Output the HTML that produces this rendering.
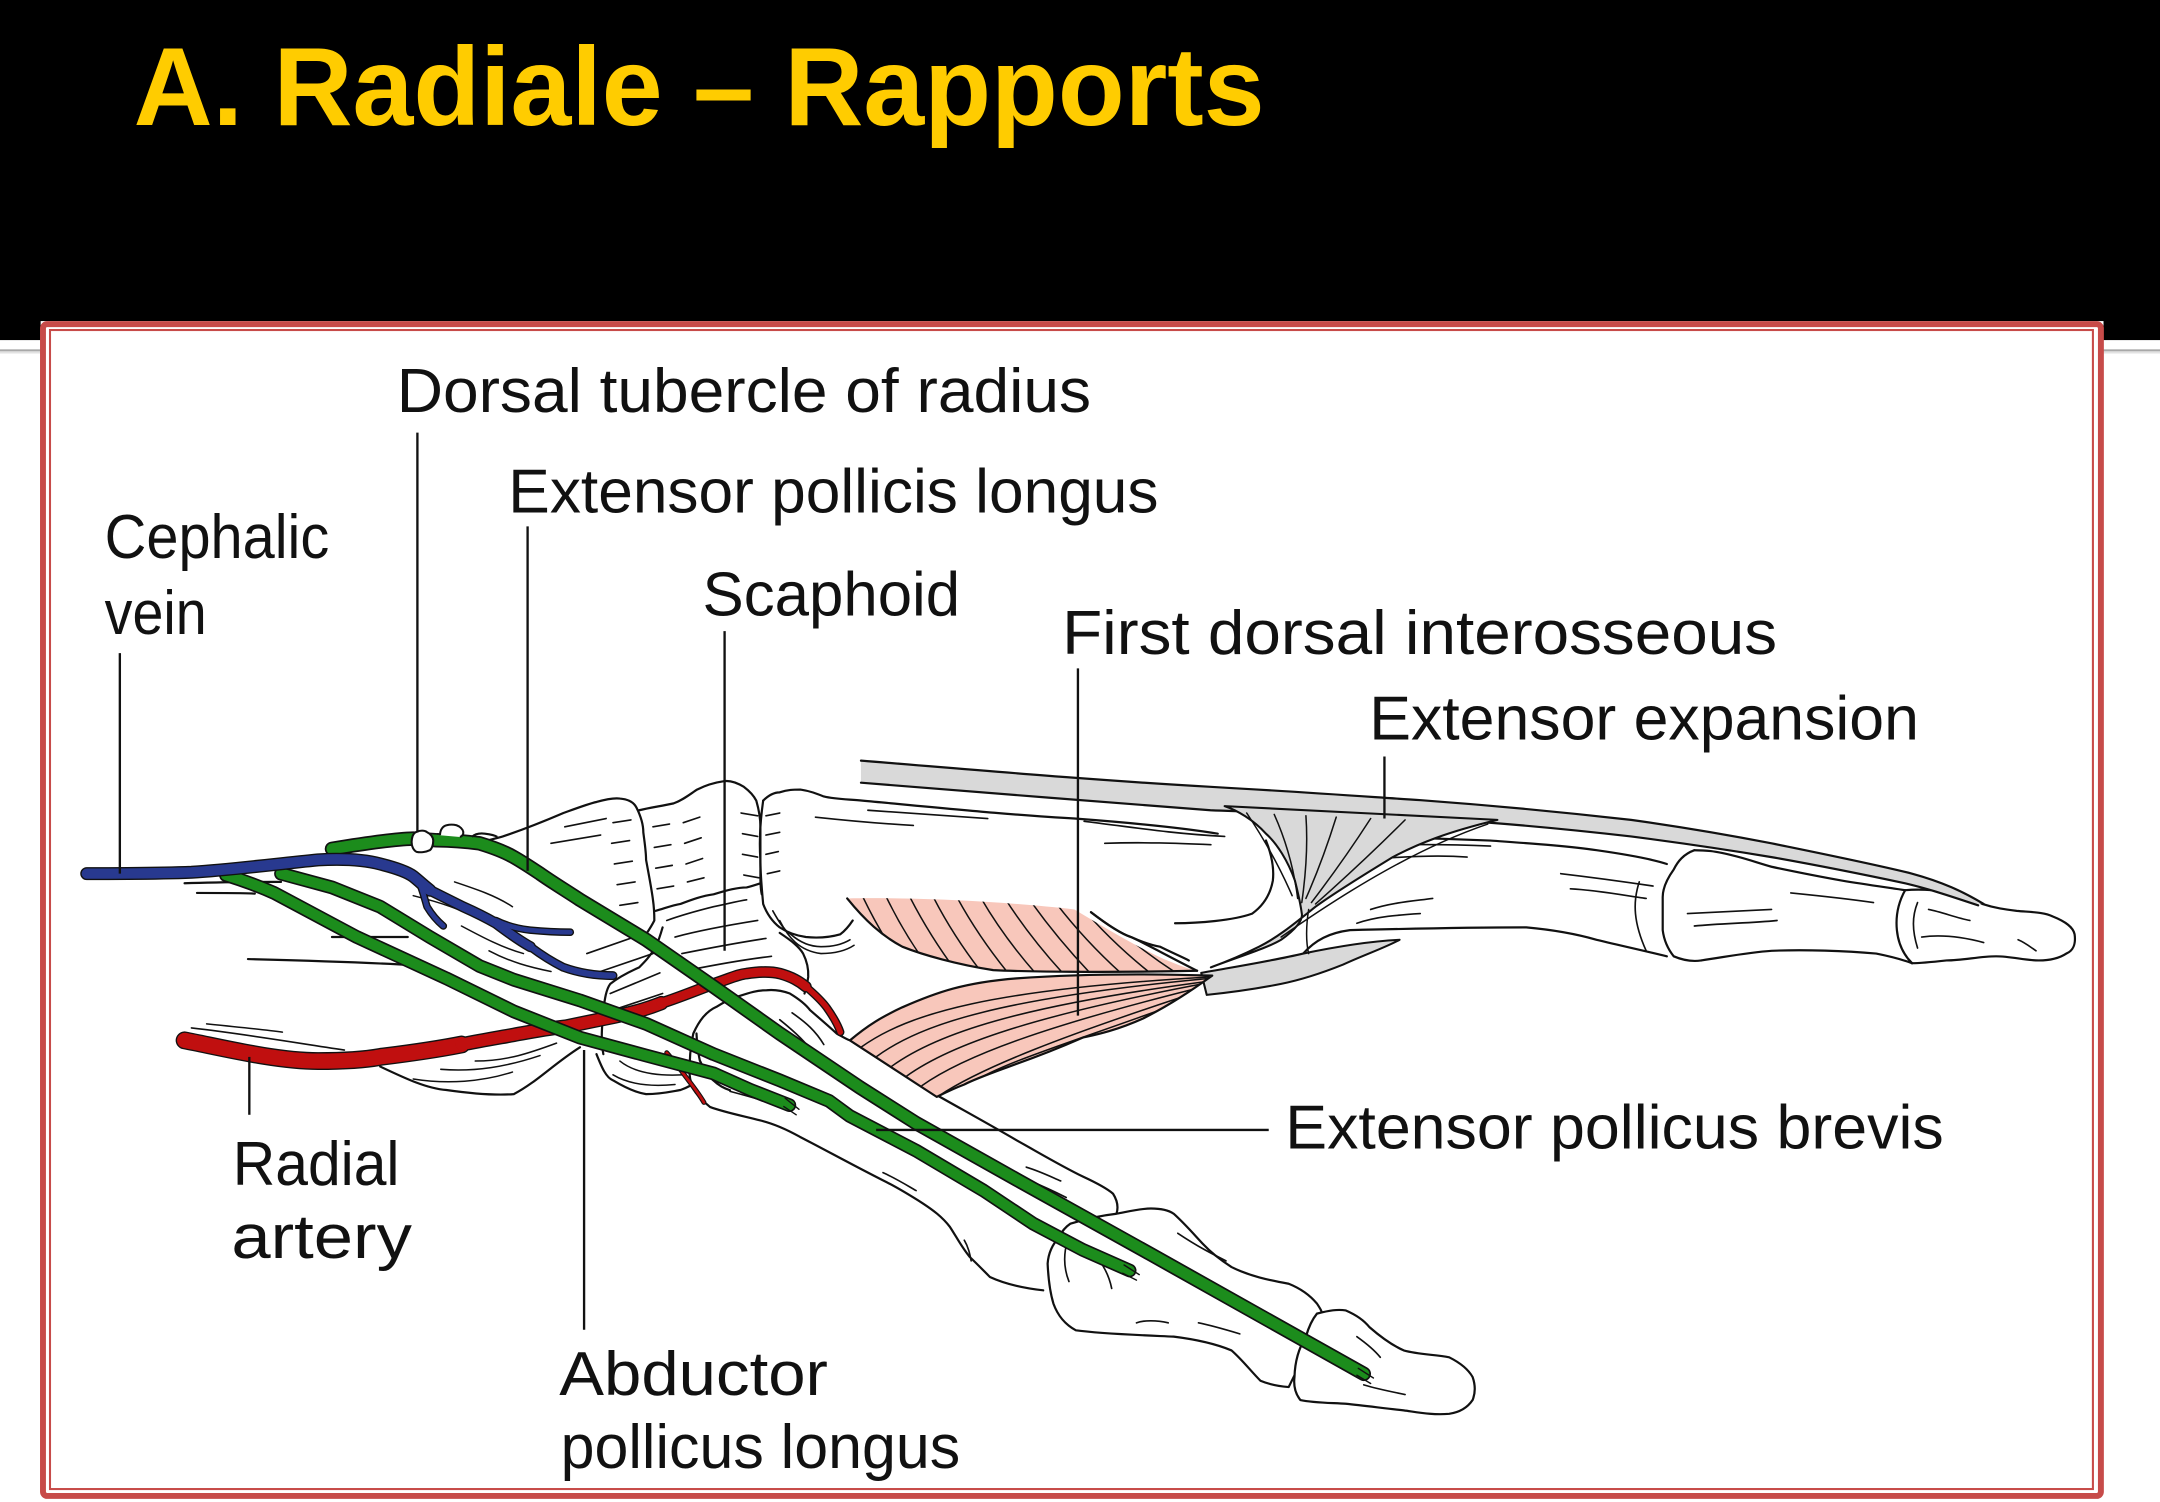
<!DOCTYPE html>
<html>
<head>
<meta charset="utf-8">
<style>
html,body{margin:0;padding:0;background:#fff;}
svg{display:block;}
</style>
</head>
<body>
<svg width="2160" height="1502" viewBox="0 0 1568 1090" preserveAspectRatio="none" xmlns="http://www.w3.org/2000/svg">
<defs>
  <clipPath id="ub"><path d="M615,652 C660,651 730,654 780,660 C800,672 825,687 845,696 C855,700 862,703 869,704.5 C840,706 800,706 760,705.5 C740,705 730,704.5 721,704 C695,700 670,693 655,687 C640,679 628,668 615,652 Z"/></clipPath>
  <clipPath id="lb"><path d="M617,755 C630,744 640,738 655,731 C680,720 700,713 738,710 C780,707 830,706.5 880,708 C866,718 850,729 830,739 C810,748 795,751 786,753 C770,760 755,766 738,772 C722,778 710,782 700,787 C692,790 686,793 680,796 C660,783 640,770 617,755 Z"/></clipPath>
</defs>

<!-- background -->
<rect x="0" y="0" width="1568" height="1090" fill="#ffffff"/>
<rect x="0" y="0" width="1568" height="246.8" fill="#000000"/>
<line x1="0" y1="255" x2="1568" y2="255" stroke="#e2e2e2" stroke-width="3"/>
<line x1="0" y1="254.2" x2="1568" y2="254.2" stroke="#a8a8a8" stroke-width="1.4"/>

<!-- title -->
<text x="97" y="90.7" font-family="'Liberation Sans', Arial, sans-serif" font-weight="bold" font-size="81" fill="#ffcc00" textLength="821" lengthAdjust="spacingAndGlyphs">A. Radiale – Rapports</text>

<!-- picture frame -->
<rect x="29.5" y="233" width="1497.5" height="855.5" fill="#ffffff"/>
<rect x="31.2" y="235.2" width="1493.9" height="850.4" rx="3" ry="3" fill="none" stroke="#c74b49" stroke-width="4.3"/>
<rect x="36.3" y="239.5" width="1483" height="841.1" fill="none" stroke="#c74b49" stroke-width="1.5"/>

<!-- ================= DRAWING ================= -->
<g fill="none" stroke="#111" stroke-width="1.6" stroke-linecap="round" stroke-linejoin="round">

  <!-- radius lines -->
  <path d="M134,641 C160,640 185,640 204,640"/>
  <path d="M143,648 C160,648 175,648 185,648.5"/>
  <path d="M241,680 L296,680"/>
  <path d="M180,696 C220,697 260,698 301,700.5"/>
  <path d="M139,746 C175,750 210,756 250,762" stroke-width="1.2"/>
  <path d="M150,743 C170,745 190,747 205,749" stroke-width="1.1"/>
  <!-- radial styloid -->
  <path d="M276,774 C295,783 310,790 324,791 C345,794 360,795 373,794 C390,785 402,772 421,760" fill="#fff"/>
  <path d="M433,765 C437,775 440,782 445,784 C455,790 462,793 469,794 C480,794 488,792 494,791 C500,789 503,787 506,784"/>
  <g stroke-width="1.1">
    <path d="M300,783 C325,787 350,785 372,778"/>
    <path d="M320,776 C345,778 368,774 392,766"/>
    <path d="M345,770 C368,770 385,764 404,757"/>
    <path d="M445,780 C455,786 470,789 490,787"/>
    <path d="M450,770 C460,778 475,781 495,780"/>
    <path d="M300,650 C320,655 335,660 350,668"/>
    <path d="M335,672 C350,680 365,688 380,692"/>
    <path d="M355,690 C370,698 385,702 400,705"/>
    <path d="M330,640 C345,645 360,650 372,658"/>
  </g>

  <!-- carpal bone A -->
  <path d="M345,613 C352,610 358,609 365,607 C380,602 395,596 409,590 C420,586 428,583 433,582 C440,580 446,579 450,579.5 C456,580 460,582 462,586 C465,592 467,598 467,604 C468,612 469,618 469,624 C471,635 473,645 474,653 C475,660 475,665 475,668 C473,672 471,675 469,678" fill="#fff"/>
  <!-- scaphoid left edge -->
  <path d="M481,673 C479,680 477,685 476,687 C472,694 468,698 464,702 C455,706 448,710 443,714 C440,718 439,725 438,733 C437,745 436,755 438,765"/>
  <!-- carpal bone B -->
  <path d="M464,588 C472,586 480,585 489,583 C495,581 500,577 506,573 C512,570 518,568 525,567 C530,566 535,568 540,571 C544,574 547,577 549,581 C551,588 552,594 552,600 L552,636 C552,641 552,645 553,649"/>
  <path d="M476,661 C483,659 488,657 494,656 C502,653 510,650 518,649 C528,646 535,644 542,644 C546,643 549,642 552,641"/>
  <!-- scaphoid right/bottom -->
  <path d="M566,677 C575,683 580,687 583,692 C586,698 587,704 586.7,709 C586,714 585,718 584,721"/>

  <!-- MC2 -->
  <path d="M554,581 C558,577 562,575 566,575 C572,573 576,573 581,573 C588,574 593,576 598,578 C606,580 615,580 626,581 C680,586 740,592 780,594 C820,597 860,601 884,605"/>
  <path d="M554,581 C552,595 551,610 552,624 C552,635 553,645 554,656 C557,664 561,669 566,673 C572,677 578,679 585,680 C595,681 603,680 610,678 C614,675 617,671 619,668"/>
  <path d="M561,661 C566,670 570,676 574,678 C582,685 590,687 596,687 C605,687 612,685 617,682" stroke-width="1.2"/>
  <path d="M566,668 C572,680 580,690 596,692 C606,692 614,690 620,686" stroke-width="1.1"/>
  <path d="M792,662 C805,672 815,678 821,680 C830,684 836,686 842,687 C850,691 857,694 863,697"/>
  <path d="M919,610 C923,620 925,630 924,639 C922,650 916,658 909,663 C895,668 870,670 853,670"/>

  <!-- carpal dashes -->
  <g stroke-width="1.2">
    <path d="M445,597 L458,595"/><path d="M444,612 L457,610"/><path d="M446,627 L459,625"/><path d="M448,642 L461,640"/><path d="M450,657 L463,655"/>
    <path d="M474,600 L486,598"/><path d="M475,615 L487,613"/><path d="M476,630 L488,628"/><path d="M477,645 L489,643"/>
    <path d="M496,597 L508,593"/><path d="M497,612 L509,608"/><path d="M498,627 L510,623"/><path d="M499,640 L511,637"/>
    <path d="M538,590 L550,592"/><path d="M539,605 L550,607"/><path d="M539,620 L550,622"/><path d="M540,635 L551,637"/>
    <path d="M556,592 L566,590"/><path d="M556,606 L566,604"/><path d="M556,620 L565,618"/><path d="M557,634 L566,632"/>
    <path d="M426,692 L469,677"/><path d="M433,706 L474,692"/><path d="M443,721 L479,706"/><path d="M445,733 L481,721"/>
    <path d="M484,668 C495,664 510,660 518,658 C528,656 535,654 542,653"/>
    <path d="M490,680 C505,676 525,672 550,668"/>
    <path d="M495,692 C510,689 530,685 556,681"/>
    <path d="M500,704 C515,701 535,697 560,694"/>
    <path d="M592,593 C620,596 645,598 663,599"/>
    <path d="M630,588 C660,590 690,592 717,594"/>
    <path d="M410,600 C420,598 430,596 440,594"/>
    <path d="M400,612 C412,610 424,608 436,606"/>
  </g>

  <!-- index PP -->
  <path d="M945,605 C1000,607 1050,609 1082,610 C1110,612 1140,614 1159,617 C1180,620 1198,623 1210,627"/>
  <path d="M946,692 C955,682 965,677 980,675 C1020,674 1070,673 1108,673 C1130,675 1145,678 1159,682 C1180,687 1198,691 1210,694"/>
  <!-- index MP -->
  <path d="M1230,617 C1240,617 1245,618 1250,619 C1265,622 1275,626 1286,629 C1305,633 1320,636 1337,639 C1355,642 1370,644 1383,646"/>
  <path d="M1230,617 C1222,620 1218,625 1215,631 C1210,638 1207,645 1207,651 L1207,675 C1208,683 1211,689 1215,694 C1222,697 1228,698 1235,697"/>
  <path d="M1235,697 C1255,694 1270,691 1286,690 C1310,689 1340,690 1362,692 C1372,694 1380,696 1388,699"/>
  <!-- index DP -->
  <path d="M1383,646 C1395,645 1405,646 1413,647 C1425,649 1432,652 1439,656 C1448,659 1456,660 1464,661 C1475,662 1484,662 1490,665 C1500,669 1505,673 1506,678 C1507,685 1505,690 1500,692 C1494,696 1487,697 1480,697 C1470,697 1460,694 1449,694 C1437,694 1425,697 1413,697 C1404,698 1395,699 1388,699"/>
  <path d="M1383,646 C1378,655 1376,665 1377,675 C1378,685 1382,693 1388,699"/>
  <g stroke-width="1.2">
    <path d="M787,596 C820,600 850,605 889,607"/>
    <path d="M802,612 C830,611 855,612 879,613"/>
    <path d="M970,614 C1000,613 1040,612 1082,614"/>
    <path d="M980,625 C1010,622 1040,620 1065,622"/>
    <path d="M985,670 C1000,665 1015,664 1031,663"/>
    <path d="M995,660 C1010,655 1025,654 1040,652"/>
    <path d="M1133,634 C1150,636 1180,640 1200,643"/>
    <path d="M1140,645 C1160,646 1180,650 1195,652"/>
    <path d="M1190,640 C1185,655 1186,670 1195,690"/>
    <path d="M1225,663 C1245,662 1265,661 1286,660"/>
    <path d="M1230,672 C1250,670 1270,670 1290,668"/>
    <path d="M1300,648 C1320,650 1340,652 1360,655"/>
    <path d="M1400,660 C1410,662 1420,666 1430,668"/>
    <path d="M1395,680 C1410,678 1425,680 1440,684"/>
    <path d="M1465,682 C1470,684 1475,688 1478,690"/>
    <path d="M1392,655 C1388,665 1388,675 1392,688"/>
  </g>

  <!-- thumb MC1 -->
  <path fill="#fff" d="M534.7,723.5 C545,720 550,718.6 556.5,718.6 C563,718 568,719 573.4,721 C580,725 585,729 588,733 C596,740 602,745 607.3,750 C611,752 614,754 617,755 C640,770 660,783 682.3,796 C700,806 720,817 738,827.5 C755,837 770,846 786.4,854 C795,858 803,862 808,866.3 C811,871 812,876 810.5,880.8 L760.5,917 L757.3,936.4 C745,935 730,932 718.6,926.7 C712,920 708,916 704,912.2 C698,905 694,897 689.6,890.4 C684,883 677,878 670.2,873.5 C660,867 650,861 641,856.6 C620,846 600,835 580.7,825 C570,819 560,815 551.6,813 C540,810 525,807 515.4,803.3 C510,799 506,795 503,790 C500,782 500,775 500.8,769.5 C501,762 502,756 503.3,750 C506,744 508,741 510.5,738 C514,734 517,732 520,730.7 C526,727 530,725 534.7,723.5 Z" stroke="none"/>
  <path d="M534.7,723.5 C545,720 550,718.6 556.5,718.6 C563,718 568,719 573.4,721 C580,725 585,729 588,733 C596,740 602,745 607.3,750 C611,752 614,754 617,755 C640,770 660,783 682.3,796 C700,806 720,817 738,827.5 C755,837 770,846 786.4,854 C795,858 803,862 808,866.3 C811,871 812,876 810.5,880.8"/>
  <path d="M757.3,936.4 C745,935 730,932 718.6,926.7 C712,920 708,916 704,912.2 C698,905 694,897 689.6,890.4 C684,883 677,878 670.2,873.5 C660,867 650,861 641,856.6 C620,846 600,835 580.7,825 C570,819 560,815 551.6,813 C540,810 525,807 515.4,803.3 C510,799 506,795 503,790 C500,782 500,775 500.8,769.5 C501,762 502,756 503.3,750 C506,744 508,741 510.5,738 C514,734 517,732 520,730.7 C526,727 530,725 534.7,723.5"/>
  <!-- thumb PP -->
  <path fill="#fff" d="M769,897.7 C771,893 774,890 777,888 C790,884 800,882 810.5,880.8 C820,879 828,877 835.5,877 C842,877 848,878 852,880.8 C860,888 866,895 873,902.5 C880,910 887,915 894,919.5 C907,926 921,929 935.5,931.6 C944,935 951,940 956,946 C958,949 960,952 960.5,955.7 L935.5,1006.6 C929,1006 922,1005 915,1002 C908,995 902,987 894,980 C882,975 868,972 852,970 C830,969 800,968 781,965.4 C773,961 768,955 764.7,946 C762,937 761,928 760.5,917 C761,910 764,903 769,897.7 Z"/>
  <!-- thumb DP -->
  <path fill="#fff" d="M956,953.3 C965,951 971,950 977,951 C984,954 990,958 994,963 C1002,970 1010,976 1019,980 C1030,983 1042,983 1052,985 C1060,989 1066,994 1069,999.3 C1071,1005 1071,1011 1069,1016 C1065,1022 1059,1025 1052,1026 C1040,1027 1030,1025 1019,1023.5 C1005,1022 990,1020 977,1018.7 C965,1018 953,1018 944,1016 C940,1011 939,1005 939.7,999.3 C940,988 943,978 948,970 C950,963 953,957 956,953.3 Z"/>
  <g stroke-width="1.2">
    <path d="M575,735 C585,742 592,748 598,758"/>
    <path d="M566,740 C576,748 585,756 590,764"/>
    <path d="M530,792 C545,796 560,800 572,806"/>
    <path d="M745,847 C755,850 763,854 770,857"/>
    <path d="M750,858 C760,862 768,866 774,869"/>
    <path d="M641,851 C650,855 658,860 665,864"/>
    <path d="M700,900 C703,905 704,910 705,915"/>
    <path d="M790,905 C800,915 805,925 807,935"/>
    <path d="M855,895 C870,905 880,910 890,915"/>
    <path d="M870,960 C880,962 890,965 900,968"/>
    <path d="M825,960 C830,958 840,958 848,960"/>
    <path d="M985,970 C992,975 998,980 1002,985"/>
    <path d="M990,1005 C1000,1008 1010,1010 1020,1012"/>
    <path d="M775,900 C772,910 772,920 776,930"/>
  </g>
  <!-- trapezium -->
  <path d="M505.6,750 C506,760 507,765 508,769.5 C511,776 514,781 517.8,784 C522,788 526,790 530,791.2"/>
</g>

<!-- gray extensor band -->
<path d="M625,552 C700,558 790,566 878.7,571 C950,575 990,578 1031.5,580.7 C1090,585 1140,590 1184,595 C1220,600 1255,606 1286,612 C1320,619 1360,627 1388,634 C1410,640 1425,647 1440,656 L1429,655 C1415,650 1400,645 1383,641 C1350,634 1320,628 1286,622 C1250,616 1215,611 1184,607 C1140,602 1100,598 1052,595 C1000,592 930,590 878.7,588 C800,582 700,574 625,568 Z" fill="#d9d9d9" stroke="none"/>
<g fill="none" stroke="#111" stroke-width="1.6" stroke-linecap="round">
  <path d="M625,552 C700,558 790,566 878.7,571 C950,575 990,578 1031.5,580.7 C1090,585 1140,590 1184,595 C1220,600 1255,606 1286,612 C1320,619 1360,627 1388,634 C1410,640 1425,647 1440,656"/>
  <path d="M625,568 C700,574 800,582 878.7,588 C930,590 1000,592 1052,595 C1100,598 1140,602 1184,607 C1215,611 1250,616 1286,622 C1320,628 1350,634 1383,641 C1400,645 1415,650 1436,657"/>
</g>
<!-- hood -->
<path d="M889,585 L1087,595 C1050,604 1030,612 1011,622 C990,635 970,647 955,658 C940,670 928,680 914,687 C900,694 890,698 879,702 C900,694 920,688 930,682 C940,675 946,668 945,663 C944,655 942,647 940,639 C935,625 927,612 919,605 C910,595 898,588 889,585 Z" fill="#d9d9d9" stroke="#111" stroke-width="1.5" stroke-linejoin="round"/>
<!-- lower gray strip -->
<path d="M872,706 C900,701 925,697 946,692 C970,687 995,683 1016,682 C1005,688 990,693 975,700 C960,706 945,711 930,714 C910,718 895,720 876,722 Z" fill="#d9d9d9" stroke="#111" stroke-width="1.5" stroke-linejoin="round"/>
<g fill="none" stroke="#111" stroke-width="1.1" stroke-linecap="round">
  <path d="M905,590 Q925,620 938,650"/>
  <path d="M925,591 Q938,620 942,652"/>
  <path d="M948,592 Q950,620 945,655"/>
  <path d="M970,593 Q960,625 948,652"/>
  <path d="M995,594 Q975,625 952,655"/>
  <path d="M1020,595 Q990,625 955,656"/>
  <path d="M1080,598 C1030,615 980,645 930,680"/>
  <path d="M950,660 C948,672 948,684 950,692"/>
</g>

<!-- pink upper belly -->
<path d="M615,652 C660,651 730,654 780,660 C800,672 825,687 845,696 C855,700 862,703 869,704.5 C840,706 800,706 760,705.5 C740,705 730,704.5 721,704 C695,700 670,693 655,687 C640,679 628,668 615,652 Z" fill="#f8c7bb"/>
<g clip-path="url(#ub)" fill="none" stroke="#111" stroke-width="1.1">
  <path d="M625,648 Q640,680 662,710"/><path d="M642,648 Q657,680 680,710"/><path d="M659,648 Q675,680 698,710"/>
  <path d="M676,648 Q692,680 716,710"/><path d="M693,648 Q710,680 735,710"/><path d="M710,648 Q728,680 755,710"/>
  <path d="M727,648 Q747,680 775,710"/><path d="M744,648 Q766,680 795,710"/><path d="M761,648 Q786,682 818,710"/>
  <path d="M778,650 Q806,684 840,710"/><path d="M795,660 Q825,688 860,710"/>
</g>
<g fill="none" stroke="#111" stroke-width="1.6" stroke-linecap="round">
  <path d="M615,652 C628,668 640,679 655,687 C670,693 695,700 721,704 C740,705 800,706 869,704.5"/>
  <path d="M792,662 C805,672 815,678 821,680 C830,684 850,695 869,704.5"/>
</g>
<!-- pink lower belly -->
<path d="M617,755 C630,744 640,738 655,731 C680,720 700,713 738,710 C780,707 830,706.5 880,708 C866,718 850,729 830,739 C810,748 795,751 786,753 C770,760 755,766 738,772 C722,778 710,782 700,787 C692,790 686,793 680,796 C660,783 640,770 617,755 Z" fill="#f8c7bb" stroke="#111" stroke-width="1.6" stroke-linejoin="round"/>
<g clip-path="url(#lb)" fill="none" stroke="#111" stroke-width="1.1">
  <path d="M625,760 C660,735 720,718 878,709"/>
  <path d="M636,767 C670,742 730,724 878,710"/>
  <path d="M647,774 C680,750 740,730 878,712"/>
  <path d="M658,781 C690,758 750,737 878,713"/>
  <path d="M669,788 C700,766 760,744 878,715"/>
  <path d="M682,795 C712,775 770,752 878,717"/>
  <path d="M705,786 C730,770 780,756 878,720"/>
</g>

<!-- radial artery -->
<g fill="none" stroke-linecap="round" stroke-linejoin="round">
  <path d="M484,764 C490,771 494,776 496,779 C502,787 507,793 511,800" stroke="#111" stroke-width="3.6"/>
  <path d="M484,764 C490,771 494,776 496,779 C502,787 507,793 511,800" stroke="#c00f0f" stroke-width="2"/>
  <path d="M134,755 C160,760 200,770 231,770 C250,770 265,769 276,767 C300,764 320,761 335,758" stroke="#111" stroke-width="13"/>
  <path d="M335,758 C350,755 362,753 373,751 C390,748 400,746 411,745 C425,742 435,740 445,738 C460,735 470,732 480,728" stroke="#111" stroke-width="10.5"/>
  <path d="M480,728 C490,725 505,719 518,714 C530,710 536,707 542,706.5 C552,705 560,705 566,706.5 C575,709 580,712 585,716" stroke="#111" stroke-width="8.5"/>
  <path d="M585,716 C592,722 597,727 600,731 C605,738 608,743 610,749" stroke="#111" stroke-width="6"/>
  <path d="M134,755 C160,760 200,770 231,770 C250,770 265,769 276,767 C300,764 320,761 335,758" stroke="#c00f0f" stroke-width="11"/>
  <path d="M335,758 C350,755 362,753 373,751 C390,748 400,746 411,745 C425,742 435,740 445,738 C460,735 470,732 480,728" stroke="#c00f0f" stroke-width="8.5"/>
  <path d="M480,728 C490,725 505,719 518,714 C530,710 536,707 542,706.5 C552,705 560,705 566,706.5 C575,709 580,712 585,716" stroke="#c00f0f" stroke-width="6.5"/>
  <path d="M585,716 C592,722 597,727 600,731 C605,738 608,743 610,749" stroke="#c00f0f" stroke-width="4"/>
</g>

<!-- green tendons -->
<g fill="none" stroke-linecap="round" stroke-linejoin="round">
  <!-- APL -->
  <path d="M164,635 C180,640 190,644 199,648 L259,680 L324,710 L373,734 L421,753 L469,766 L518,779 L545,791 L573,802" stroke="#111" stroke-width="10"/>
  <path d="M164,635 C180,640 190,644 199,648 L259,680 L324,710 L373,734 L421,753 L469,766 L518,779 L545,791 L573,802" stroke="#1c8c1c" stroke-width="7.6"/>
  <!-- EPB -->
  <path d="M204,634 L241,644 L276,658 L312,680 L348,701 L373,711 L421,726 L469,743 L518,765 L566,784 L602,799 L617,810 L665,835 L714,864 L750,888 L786,907 L820,922" stroke="#111" stroke-width="10"/>
  <path d="M204,634 L241,644 L276,658 L312,680 L348,701 L373,711 L421,726 L469,743 L518,765 L566,784 L602,799 L617,810 L665,835 L714,864 L750,888 L786,907 L820,922" stroke="#1c8c1c" stroke-width="7.6"/>
  <!-- EPL -->
  <path d="M241,616 C265,612 285,609 300,608.6 L317,609.8 C330,610 340,611 348,612 C358,615 366,618 373,622 C380,626 386,630 392,634 C402,641 412,647 421,653 L469,682 L518,716 L566,750 L624,789 L665,815 L738,856 L835,910 L990,997" stroke="#111" stroke-width="10.5"/>
  <path d="M241,616 C265,612 285,609 300,608.6 L317,609.8 C330,610 340,611 348,612 C358,615 366,618 373,622 C380,626 386,630 392,634 C402,641 412,647 421,653 L469,682 L518,716 L566,750 L624,789 L665,815 L738,856 L835,910 L990,997" stroke="#1c8c1c" stroke-width="8"/>
</g>
<g fill="none" stroke="#111" stroke-width="1" stroke-linecap="round">
  <path d="M986,993 L997,1000"/><path d="M985,998 L995,1004"/>
  <path d="M816,918 L827,925"/><path d="M815,924 L825,929"/>
  <path d="M570,797 L580,805"/><path d="M569,803 L578,809"/>
</g>

<!-- blue cephalic vein -->
<g fill="none" stroke-linecap="round" stroke-linejoin="round">
  <path d="M305,642 C308,650 309,655 310,658 C313,663 317,668 321.8,672" stroke="#111" stroke-width="5.5"/>
  <path d="M360,668 C368,672 376,674 384.7,675 C395,676 405,676.5 414,676.5" stroke="#111" stroke-width="5.5"/>
  <path d="M63,634 C90,634 115,634 139,633 C170,631 200,627 231,624 C250,623 265,624 276,627 C288,630 296,633 300,636 C305,640 308,643 312,646" stroke="#111" stroke-width="9.5"/>
  <path d="M312,646 C320,650 328,654 336,658 C345,662 353,666 360,670 C368,676 376,682 385,687" stroke="#111" stroke-width="8"/>
  <path d="M385,687 C393,693 401,698 409,702 C420,706 432,708 445,708" stroke="#111" stroke-width="6.5"/>
  <path d="M305,642 C308,650 309,655 310,658 C313,663 317,668 321.8,672" stroke="#28398f" stroke-width="3.5"/>
  <path d="M360,668 C368,672 376,674 384.7,675 C395,676 405,676.5 414,676.5" stroke="#28398f" stroke-width="3.5"/>
  <path d="M63,634 C90,634 115,634 139,633 C170,631 200,627 231,624 C250,623 265,624 276,627 C288,630 296,633 300,636 C305,640 308,643 312,646" stroke="#28398f" stroke-width="7.5"/>
  <path d="M312,646 C320,650 328,654 336,658 C345,662 353,666 360,670 C368,676 376,682 385,687" stroke="#28398f" stroke-width="6"/>
  <path d="M385,687 C393,693 401,698 409,702 C420,706 432,708 445,708" stroke="#28398f" stroke-width="4.5"/>
</g>

<!-- dorsal tubercle knobs -->
<g fill="#fff" stroke="#111" stroke-width="1.5" stroke-linejoin="round">
  <path d="M298.8,611 C299,607 300,604.5 302.4,603.7 C305,602.5 308,602.5 309.7,603.7 C312.5,605 314.5,607.5 314.5,610 C314.5,613 313.5,616 312,617 C309,618.5 305,618.8 302.4,618.2 C300,617 298.8,614 298.8,611 Z"/>
  <path d="M319.4,606.1 C319.5,602 321.5,599.5 324.2,598.9 C326.5,598.3 329,598.3 331.4,598.9 C334,599.8 336,601.8 336.3,603.7 C336.5,605.5 335.5,606.8 333.9,607.4"/>
  <path d="M342.6,607.3 C345,605 348,604.5 352,605 C356,605.5 359,606 361,607.3" fill="none"/>
</g>

<!-- leader lines -->
<g stroke="#111" stroke-width="1.7" fill="none">
  <line x1="87" y1="474" x2="87" y2="634"/>
  <line x1="303" y1="314" x2="303" y2="604"/>
  <line x1="383" y1="382" x2="383" y2="632"/>
  <line x1="526" y1="458" x2="526" y2="690"/>
  <line x1="782.5" y1="485" x2="782.5" y2="737"/>
  <line x1="1005" y1="549" x2="1005" y2="594"/>
  <line x1="636" y1="820" x2="921" y2="820"/>
  <line x1="181" y1="767" x2="181" y2="809"/>
  <line x1="424" y1="762" x2="424" y2="965"/>
</g>

<!-- labels -->
<g font-family="'Liberation Sans', Arial, sans-serif" font-size="45" fill="#111">
  <text x="288" y="299" textLength="504" lengthAdjust="spacingAndGlyphs">Dorsal tubercle of radius</text>
  <text x="369" y="372" textLength="472" lengthAdjust="spacingAndGlyphs">Extensor pollicis longus</text>
  <text x="76" y="405" textLength="163" lengthAdjust="spacingAndGlyphs">Cephalic</text>
  <text x="76" y="460" textLength="74" lengthAdjust="spacingAndGlyphs">vein</text>
  <text x="510" y="446.5" textLength="187" lengthAdjust="spacingAndGlyphs">Scaphoid</text>
  <text x="771" y="474.5" textLength="519" lengthAdjust="spacingAndGlyphs">First dorsal interosseous</text>
  <text x="994" y="536.5" textLength="399" lengthAdjust="spacingAndGlyphs">Extensor expansion</text>
  <text x="933" y="833.5" textLength="478" lengthAdjust="spacingAndGlyphs">Extensor pollicus brevis</text>
  <text x="169" y="860" textLength="121" lengthAdjust="spacingAndGlyphs">Radial</text>
  <text x="168" y="913" textLength="131" lengthAdjust="spacingAndGlyphs">artery</text>
  <text x="406" y="1012.5" textLength="195" lengthAdjust="spacingAndGlyphs">Abductor</text>
  <text x="407" y="1065.5" textLength="290" lengthAdjust="spacingAndGlyphs">pollicus longus</text>
</g>
</svg>
</body>
</html>
